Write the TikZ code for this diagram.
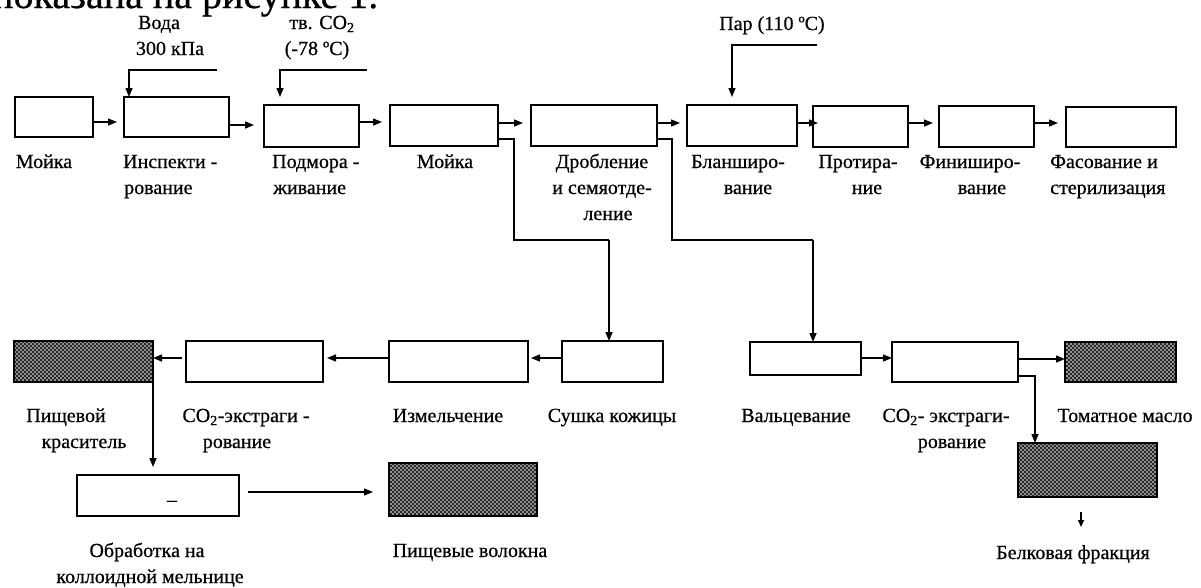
\documentclass[tikz,border=0pt]{standalone}
\usepackage{fontspec}
\setmainfont{Liberation Serif}[FakeBold=0.6]
\usetikzlibrary{arrows.meta,patterns}
\pgfdeclarepatternformonly{stipple}{\pgfpoint{-1pt}{-1pt}}{\pgfpoint{5pt}{5pt}}{\pgfpoint{4pt}{4pt}}{%
  \pgfpathcircle{\pgfpoint{1pt}{1pt}}{0.9pt}%
  \pgfpathcircle{\pgfpoint{3pt}{3pt}}{0.9pt}%
  \pgfusepath{fill}}
\newcommand{\lblfont}{\fontsize{20}{26}\selectfont}
\begin{document}
\begin{tikzpicture}[x=1pt,y=-1pt,
  box/.style={draw=black, line width=1.4pt, fill=white, anchor=north west, inner sep=0pt, outer sep=0pt},
  dark/.style={draw=none, anchor=north west, inner sep=0pt, outer sep=0pt, fill=black!85,
     postaction={pattern=stipple, pattern color=white},
     postaction={draw=black, line width=1.4pt}},
  arr/.style={line width=1.4pt, -{Triangle[length=9pt,width=7pt]}},
  ln/.style={line width=1.4pt},
  lab/.style={anchor=base, inner sep=0pt, font=\lblfont},
  labw/.style={lab, anchor=base west}]
\useasboundingbox (0,0) rectangle (1201,587);
\clip (0,0) rectangle (1201,587);
% cut-off line of text at the top
\node[anchor=base west, inner sep=0pt, font=\fontsize{40}{44}\selectfont] (toptext) at (-8,8) {показана на рисунке 1.};

% ---------- top row ----------
\node[box, minimum width=78pt,  minimum height=40pt] (m1)   at (15,97)   {};
\node[box, minimum width=105pt, minimum height=40pt] (insp) at (124,97)  {};
\node[box, minimum width=95pt,  minimum height=42pt] (podm) at (264,105) {};
\node[box, minimum width=108pt, minimum height=41pt] (m2)   at (390,105) {};
\node[box, minimum width=126pt, minimum height=41pt] (drob) at (531,105) {};
\node[box, minimum width=110pt, minimum height=41pt] (blan) at (687,105) {};
\node[box, minimum width=95pt,  minimum height=41pt] (prot) at (813,106) {};
\node[box, minimum width=95pt,  minimum height=41pt] (fin)  at (939,106) {};
\node[box, minimum width=110pt, minimum height=40pt] (fas)  at (1066,107) {};

\draw[arr, shorten >=7pt] (m1.east |- 0,122) -- (insp.west |- 0,122);
\draw[arr, shorten >=10pt] (insp.east |- 0,125) -- (podm.west |- 0,125);
\draw[arr, shorten >=8pt] (podm.east |- 0,122) -- (m2.west |- 0,122);
\draw[arr, shorten >=8pt] (m2.east |- 0,123) -- (drob.west |- 0,123);
\draw[arr, shorten >=7pt] (drob.east |- 0,123) -- (blan.west |- 0,123);
\draw[arr, shorten >=-5pt] (blan.east |- 0,123) -- (prot.west |- 0,123);
\draw[arr, shorten >=6pt] (prot.east |- 0,123) -- (fin.west |- 0,123);
\draw[arr, shorten >=8pt] (fin.east |- 0,123) -- (fas.west |- 0,123);

% inputs
\coordinate (water) at (217,70);
\coordinate (co2in) at (367,70);
\coordinate (steam) at (817,45);
\draw[arr] (water) -- (129,70) -- (insp.north -| 129,0);
\draw[arr, shorten >=8pt] (co2in) -- (280,70) -- (podm.north -| 280,0);
\draw[arr, shorten >=8pt] (steam) -- (732,45) -- (blan.north -| 732,0);

\node[lab] (t-voda1) at (159,29) {Вода};
\node[lab] (t-voda2) at (170,55) {300 кПа};
\node[lab] (t-co2a) at (322,29) {тв. CO\textsubscript{2}};
\node[lab] (t-co2b) at (317,55) {(-78 ºC)};
\node[lab] (t-par)  at (772,30) {Пар (110 ºC)};

\node[lab]  (l-m1)    at (44,168)   {Мойка};
\node[labw] (l-insp1) at (123,168)  {Инспекти -};
\node[labw] (l-insp2) at (124,194)  {рование};
\node[labw] (l-podm1) at (272,168)  {Подмора -};
\node[labw] (l-podm2) at (273,194)  {живание};
\node[lab]  (l-m2)    at (445,168)  {Мойка};
\node[lab]  (l-drob1) at (602,168)  {Дробление};
\node[lab]  (l-drob2) at (602,194)  {и семяотде-};
\node[lab]  (l-drob3) at (608,220)  {ление};
\node[lab]  (l-blan1) at (738,168)  {Бланширо-};
\node[lab]  (l-blan2) at (748,194)  {вание};
\node[lab]  (l-prot1) at (858,168)  {Протира-};
\node[lab]  (l-prot2) at (867,194)  {ние};
\node[lab]  (l-fin1)  at (970,168)  {Финиширо-};
\node[lab]  (l-fin2)  at (982,194)  {вание};
\node[labw] (l-fas1)  at (1050,168) {Фасование и};
\node[labw] (l-fas2)  at (1050,194) {стерилизация};

% ---------- lower left chain ----------
\node[dark, minimum width=139pt, minimum height=41pt] (dye)  at (14,341)  {};
\node[box,  minimum width=137pt, minimum height=41pt] (co2a) at (186,341) {};
\node[box,  minimum width=139pt, minimum height=41pt] (izm)  at (389,341) {};
\node[box,  minimum width=101pt, minimum height=41pt] (sush) at (562,341) {};
\node[box,  minimum width=162pt, minimum height=41pt] (coll) at (77,475)  {};
\node[dark, minimum width=148pt, minimum height=53pt] (fib)  at (389,463) {};
\node[lab] (dash) at (172,506) {–};

\draw[ln] (m2.east |- 0,139) -- (514,139) -- (514,240) -- (609,240);
\draw[arr] (609,240) -- (sush.north -| 609,0);
\draw[arr, shorten <=4pt] (co2a.west |- 0,358) -- (dye.east |- 0,358);
\draw[arr, shorten >=4pt] (izm.west |- 0,358) -- (co2a.east |- 0,358);
\draw[arr, shorten >=3pt] (sush.west |- 0,358) -- (izm.east |- 0,358);
\draw[arr, shorten >=8pt] (dye.south east) -- (coll.north -| dye.south east);
\draw[arr, shorten <=9pt, shorten >=16pt] (coll.east |- 0,492) -- (fib.west |- 0,492);

\node[lab] (l-dye1)  at (66,422)  {Пищевой};
\node[lab] (l-dye2)  at (84,448)  {краситель};
\node[lab] (l-co2a1) at (246,422) {CO\textsubscript{2}-экстраги -};
\node[lab] (l-co2a2) at (237,448) {рование};
\node[lab] (l-izm)   at (448,422) {Измельчение};
\node[lab] (l-sush)  at (612,422) {Сушка кожицы};
\node[lab] (l-coll1) at (147,557) {Обработка на};
\node[lab] (l-coll2) at (150,583) {коллоидной мельнице};
\node[lab] (l-fib)   at (470,557) {Пищевые волокна};

% ---------- lower right chain ----------
\node[box,  minimum width=111pt, minimum height=33pt] (valc) at (750,342)  {};
\node[box,  minimum width=126pt, minimum height=40pt] (co2b) at (892,342)  {};
\node[dark, minimum width=111pt, minimum height=40pt] (oil)  at (1065,342) {};
\node[dark, minimum width=139pt, minimum height=54pt] (prt)  at (1018,443) {};

\draw[ln] (drob.east |- 0,139) -- (672,139) -- (672,240) -- (813,240);
\draw[arr] (813,240) -- (valc.north -| 813,0);
\draw[arr] (valc.east |- 0,358) -- (co2b.west |- 0,358);
\draw[arr] (co2b.east |- 0,359) -- (oil.west |- 0,359);
\draw[arr] (co2b.east |- 0,376) -- (1035,376) -- (prt.north -| 1035,0);
\coordinate (pa) at (1081,512);
\coordinate (pb) at (1081,527);
\draw[line width=1.4pt, -{Triangle[length=7pt,width=6pt]}] (pa) -- (pb);

\node[lab] (l-valc)  at (796,422)  {Вальцевание};
\node[lab] (l-co2b1) at (946,422)  {CO\textsubscript{2}- экстраги-};
\node[lab] (l-co2b2) at (952,448)  {рование};
\node[lab] (l-oil)   at (1125,422) {Томатное масло};
\node[lab] (l-prt)   at (1073,559) {Белковая фракция};
\end{tikzpicture}
\end{document}
